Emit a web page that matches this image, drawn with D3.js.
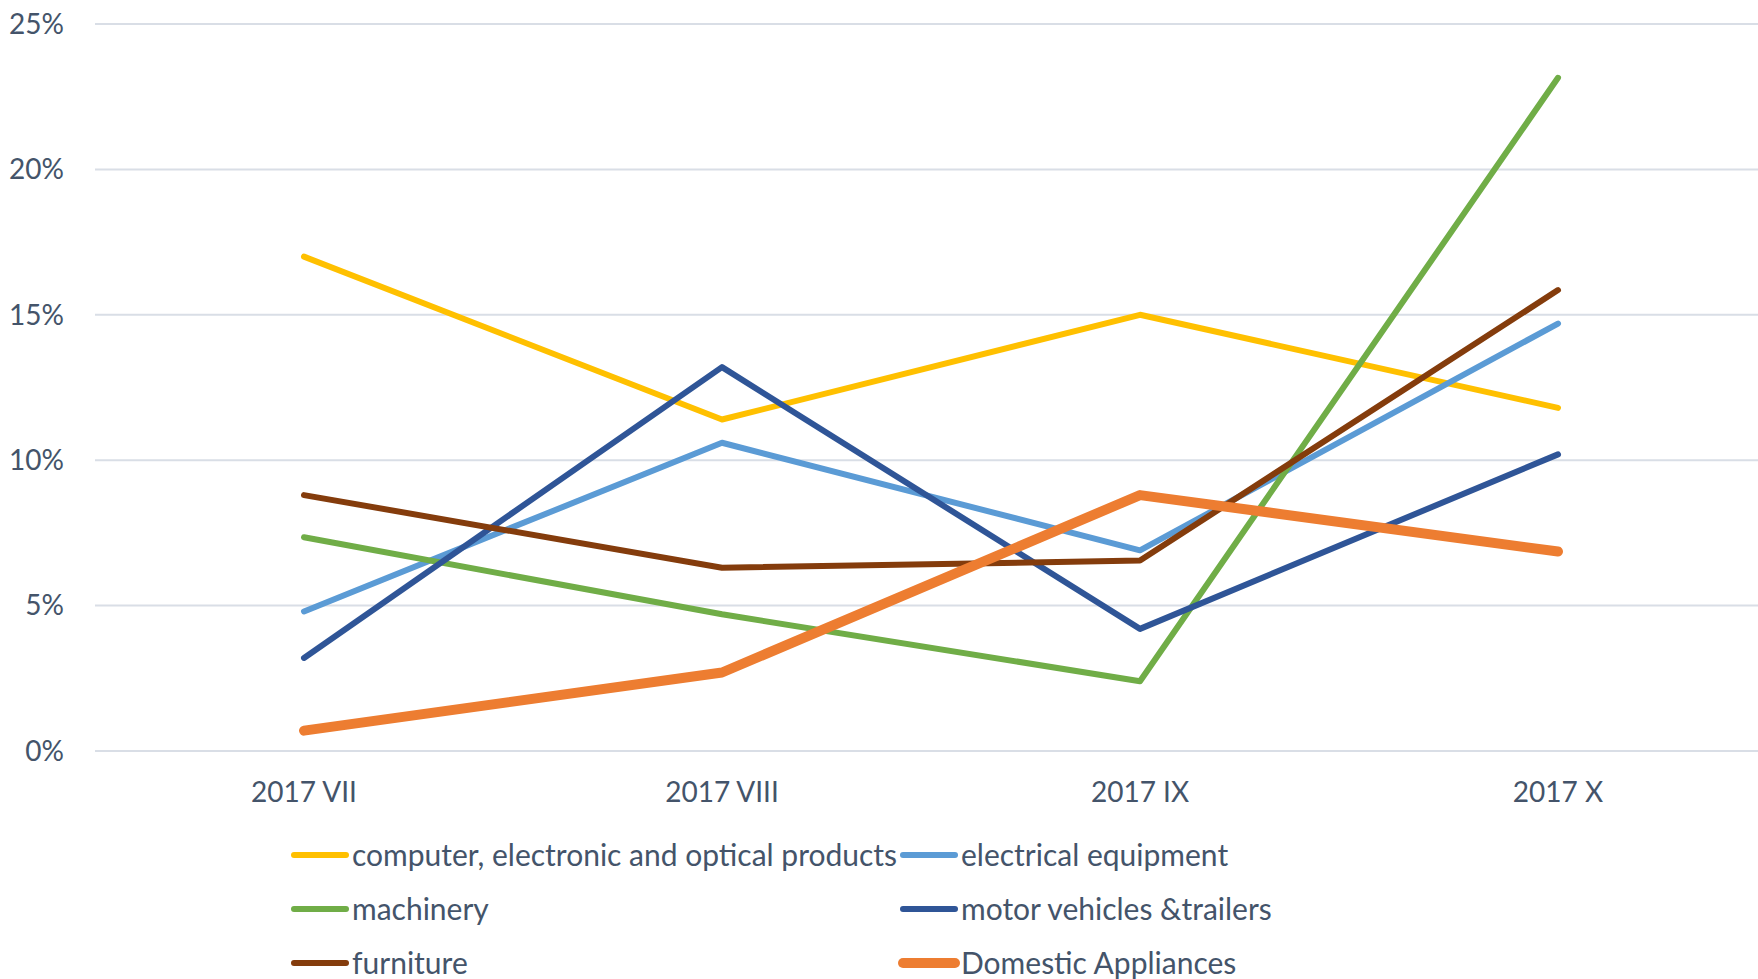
<!DOCTYPE html>
<html>
<head>
<meta charset="utf-8">
<script src="https://cdn.jsdelivr.net/npm/d3@7"></script>
<style>
  html, body { margin: 0; padding: 0; background: #fff; overflow: hidden; }
  text { font-family: Lato, "Open Sans", sans-serif; fill: #44546A; }
</style>
</head>
<body>
<div id="chart"></div>
<script>
// categories and tick values
const months = ["2017 VII", "2017 VIII", "2017 IX", "2017 X"];
const yTicks = [0, 0.05, 0.10, 0.15, 0.20, 0.25];

// series values (share)
const computerVals = [0.170, 0.114, 0.150, 0.118];
const electricalVals = [0.048, 0.106, 0.069, 0.147];
const machineryVals = [0.0735, 0.047, 0.024, 0.2315];
const motorVals = [0.032, 0.132, 0.042, 0.102];
const furnitureVals = [0.088, 0.063, 0.0655, 0.1585];
const domesticVals = [0.007, 0.027, 0.088, 0.0686];

const seriesNames = [
  "computer, electronic and optical products",
  "electrical equipment",
  "machinery",
  "motor vehicles &trailers",
  "furniture",
  "Domestic Appliances"
];
const seriesColors = ["#FFC000", "#5B9BD5", "#70AD47", "#2F5597", "#843C0C", "#ED7D31"];
const seriesWidths = [6, 6, 6, 6, 6, 10];

const series = seriesNames.map((name, i) => ({
  name: name,
  color: seriesColors[i],
  width: seriesWidths[i],
  values: [computerVals, electricalVals, machineryVals, motorVals, furnitureVals, domesticVals][i]
}));

const W = 1758, H = 979;
const svg = d3.select("#chart").append("svg")
  .attr("width", W)
  .attr("height", H);

// scales
const x = d3.scaleBand().domain(months).range([95, 1767]);
const y = d3.scaleLinear().domain([0, 0.25]).range([751, 24]);

// gridlines
svg.append("g")
  .selectAll("line")
  .data(yTicks)
  .join("line")
  .attr("x1", 95)
  .attr("x2", W)
  .attr("y1", d => y(d))
  .attr("y2", d => y(d))
  .attr("stroke", "#D9DEE6")
  .attr("stroke-width", 2);

// y axis labels
svg.append("g")
  .selectAll("text")
  .data(yTicks)
  .join("text")
  .attr("x", 64)
  .attr("y", d => y(d))
  .attr("dy", "0.35em")
  .attr("text-anchor", "end")
  .style("font-size", "28px")
  .text(d => d3.format(".0%")(d));

// x axis labels
svg.append("g")
  .selectAll("text")
  .data(months)
  .join("text")
  .attr("x", d => x(d) + x.bandwidth() / 2)
  .attr("y", 792)
  .attr("dy", "0.35em")
  .attr("text-anchor", "middle")
  .style("font-size", "28px")
  .text(d => d);

// lines
const line = d3.line()
  .x((d, i) => x(months[i]) + x.bandwidth() / 2)
  .y(d => y(d));

svg.append("g")
  .selectAll("path")
  .data(series)
  .join("path")
  .attr("fill", "none")
  .attr("stroke", d => d.color)
  .attr("stroke-width", d => d.width)
  .attr("stroke-linecap", "round")
  .attr("stroke-linejoin", "round")
  .attr("d", d => line(d.values));

// legend, two columns
const legendCols = [294, 903];
const legendRows = [855, 909, 963];
const legend = svg.append("g")
  .selectAll("g")
  .data(series)
  .join("g")
  .attr("transform", (d, i) => `translate(${legendCols[i % 2]},${legendRows[Math.floor(i / 2)]})`);

legend.append("line")
  .attr("x1", 0)
  .attr("x2", 52)
  .attr("stroke", d => d.color)
  .attr("stroke-width", d => d.width)
  .attr("stroke-linecap", "round");

legend.append("text")
  .attr("x", 58)
  .attr("dy", "0.35em")
  .style("font-size", "30px")
  .text(d => d.name);
</script>
</body>
</html>
